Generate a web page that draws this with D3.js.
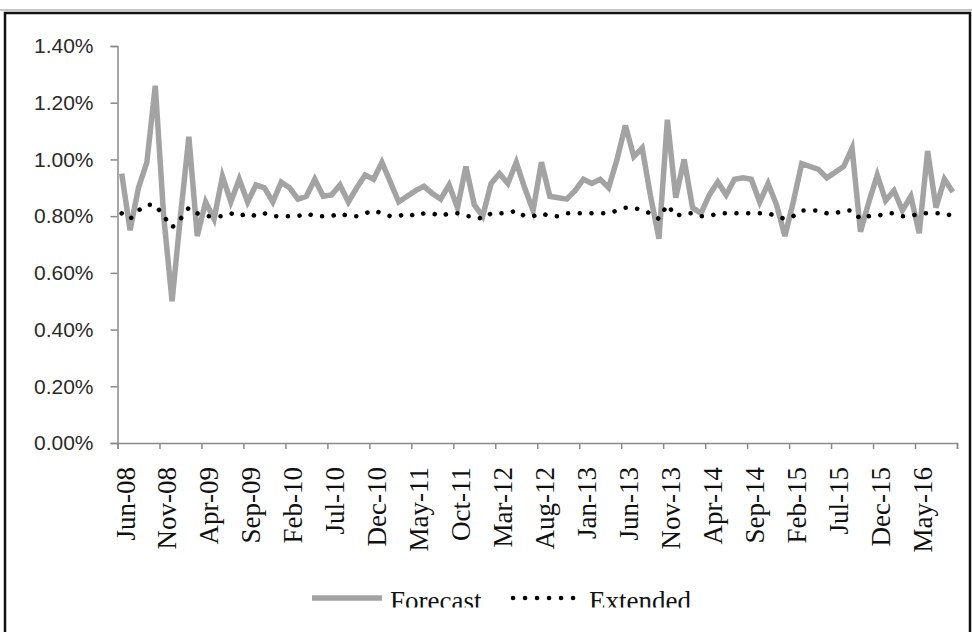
<!DOCTYPE html>
<html>
<head>
<meta charset="utf-8">
<script src="https://cdn.jsdelivr.net/npm/d3@7"></script>
<style>
  body { margin: 0; background: #fff; }
  svg { display: block; }
</style>
</head>
<body>
<script>
// monthly series, Jun-08 .. Sep-16
var monthNames = ["Jan","Feb","Mar","Apr","May","Jun","Jul","Aug","Sep","Oct","Nov","Dec"];
var months = [];
for (var k = 0; k < 100; k++) {
  var m = (5 + k) % 12, yr = 8 + Math.floor((5 + k) / 12);
  months.push(monthNames[m] + "-" + (yr < 10 ? "0" + yr : "" + yr));
}

var forecast = [
  0.95, 0.75, 0.90, 0.99, 1.26, 0.80, 0.50, 0.80, 1.08, 0.73, 0.85, 0.79,
  0.94, 0.85, 0.93, 0.85, 0.91, 0.90, 0.85, 0.92, 0.90, 0.86, 0.87, 0.93,
  0.87, 0.875, 0.91, 0.85, 0.90, 0.945, 0.93, 0.99, 0.92, 0.85, 0.87, 0.89,
  0.905, 0.88, 0.86, 0.91, 0.83, 0.975, 0.84, 0.80, 0.915, 0.95, 0.915, 0.99,
  0.90, 0.82, 0.99, 0.87, 0.865, 0.86, 0.89, 0.93, 0.915, 0.93, 0.90, 1.00,
  1.12, 1.01, 1.04, 0.87, 0.72, 1.14, 0.865, 1.00, 0.83, 0.81, 0.875, 0.92,
  0.875, 0.93, 0.935, 0.93, 0.85, 0.915, 0.84, 0.73, 0.85, 0.985, 0.975, 0.965,
  0.935, 0.955, 0.975, 1.04, 0.745, 0.85, 0.945, 0.855, 0.89, 0.82, 0.87, 0.74,
  1.03, 0.83, 0.93, 0.885
];

var extended = [
  0.81, 0.79, 0.82, 0.84, 0.84, 0.80, 0.76, 0.79, 0.83, 0.81, 0.80, 0.80,
  0.80, 0.81, 0.80, 0.81, 0.80, 0.81, 0.80, 0.80, 0.80, 0.80, 0.81, 0.80,
  0.80, 0.80, 0.81, 0.80, 0.80, 0.81, 0.82, 0.81, 0.80, 0.80, 0.81, 0.80,
  0.81, 0.81, 0.80, 0.81, 0.81, 0.80, 0.80, 0.79, 0.81, 0.81, 0.81, 0.82,
  0.80, 0.80, 0.81, 0.80, 0.80, 0.81, 0.81, 0.81, 0.81, 0.81, 0.81, 0.82,
  0.83, 0.83, 0.82, 0.81, 0.79, 0.84, 0.80, 0.81, 0.81, 0.80, 0.80, 0.81,
  0.81, 0.81, 0.81, 0.81, 0.81, 0.81, 0.80, 0.79, 0.80, 0.82, 0.82, 0.82,
  0.81, 0.81, 0.82, 0.82, 0.79, 0.80, 0.80, 0.81, 0.81, 0.80, 0.80, 0.81,
  0.81, 0.81, 0.81, 0.80
];

var yTicks = [0, 0.2, 0.4, 0.6, 0.8, 1.0, 1.2, 1.4];
var labelEvery = 5;

var W = 972, H = 632;
var plotLeft = 117.5, plotRight = 957, plotTop = 46, plotBottom = 443;

var svg = d3.select("body").append("svg")
  .attr("width", W).attr("height", H);

// outer frame
svg.append("line").attr("x1", 0).attr("x2", W).attr("y1", 10).attr("y2", 10)
  .attr("stroke", "#b5b5b5").attr("stroke-width", 1.5);
svg.append("rect").attr("x", 5).attr("y", 13).attr("width", 965).attr("height", 640)
  .attr("fill", "none").attr("stroke", "#111").attr("stroke-width", 2.5);

var xScale = d3.scaleBand().domain(months).range([plotLeft, plotRight]).paddingInner(0).paddingOuter(0);
var xEdge = d3.scaleLinear().domain([0, months.length]).range([plotLeft, plotRight]);
var yScale = d3.scaleLinear().domain([0, 1.4]).range([plotBottom, plotTop]);

// y axis
var yAxisG = svg.append("g").attr("transform", "translate(" + plotLeft + ",0)")
  .call(d3.axisLeft(yScale).tickValues(yTicks).tickSize(7).tickPadding(17)
    .tickFormat(function(d){ return d3.format(".2f")(d) + "%"; }));
yAxisG.select(".domain").attr("stroke", "#8a8a8a").attr("stroke-width", 1.5);
yAxisG.selectAll(".tick line").attr("stroke", "#8a8a8a").attr("stroke-width", 1.5);
yAxisG.selectAll("text").attr("font-family", "'Liberation Sans', Arial, sans-serif")
  .attr("font-size", 21).attr("fill", "#2a2a2a");

// x axis (ticks on category boundaries)
var xAxisG = svg.append("g").attr("transform", "translate(0," + plotBottom + ")")
  .call(d3.axisBottom(xEdge).tickValues(d3.range(0, months.length + 1, labelEvery))
    .tickSize(6).tickFormat(""));
xAxisG.select(".domain").attr("stroke", "#8a8a8a").attr("stroke-width", 1.5);
xAxisG.selectAll(".tick line").attr("stroke", "#8a8a8a").attr("stroke-width", 1.5);

svg.append("g").selectAll("text")
  .data(months.filter(function(d, i){ return i % labelEvery == 0; }))
  .enter().append("text")
  .attr("transform", function(d){ return "translate(" + (xScale(d) + 17) + "," + 467 + ") rotate(-90)"; })
  .attr("text-anchor", "end")
  .attr("font-family", "'Liberation Serif', 'Times New Roman', serif")
  .attr("font-size", 27)
  .attr("fill", "#111")
  .text(function(d){ return d; });

var cx = function(d, i){ return xScale(months[i]) + xScale.bandwidth() / 2; };

var line = d3.line().x(cx).y(function(d){ return yScale(d); });

svg.append("path").datum(forecast)
  .attr("d", line)
  .attr("fill", "none")
  .attr("stroke", "#a3a3a3")
  .attr("stroke-width", 5.5)
  .attr("stroke-linejoin", "miter");

svg.append("path").datum(extended)
  .attr("d", line)
  .attr("fill", "none")
  .attr("stroke", "#000")
  .attr("stroke-width", 4.5)
  .attr("stroke-linecap", "round")
  .attr("stroke-dasharray", "0.1 11.6");

// legend
svg.append("clipPath").attr("id", "legclip")
  .append("rect").attr("x", 0).attr("y", 0).attr("width", W).attr("height", 607.5);

var leg = svg.append("g").attr("clip-path", "url(#legclip)");
leg.append("line").attr("x1", 312).attr("x2", 382).attr("y1", 598).attr("y2", 598)
  .attr("stroke", "#a3a3a3").attr("stroke-width", 5.5);
leg.append("text").attr("x", 390).attr("y", 610)
  .attr("font-family", "'Liberation Serif', 'Times New Roman', serif")
  .attr("font-size", 27).attr("fill", "#111").text("Forecast");
leg.append("line").attr("x1", 513).attr("x2", 574).attr("y1", 598).attr("y2", 598)
  .attr("stroke", "#000").attr("stroke-width", 4.5)
  .attr("stroke-linecap", "round").attr("stroke-dasharray", "0.1 11.9");
leg.append("text").attr("x", 589).attr("y", 610)
  .attr("font-family", "'Liberation Serif', 'Times New Roman', serif")
  .attr("font-size", 27).attr("fill", "#111").text("Extended");
</script>
</body>
</html>
